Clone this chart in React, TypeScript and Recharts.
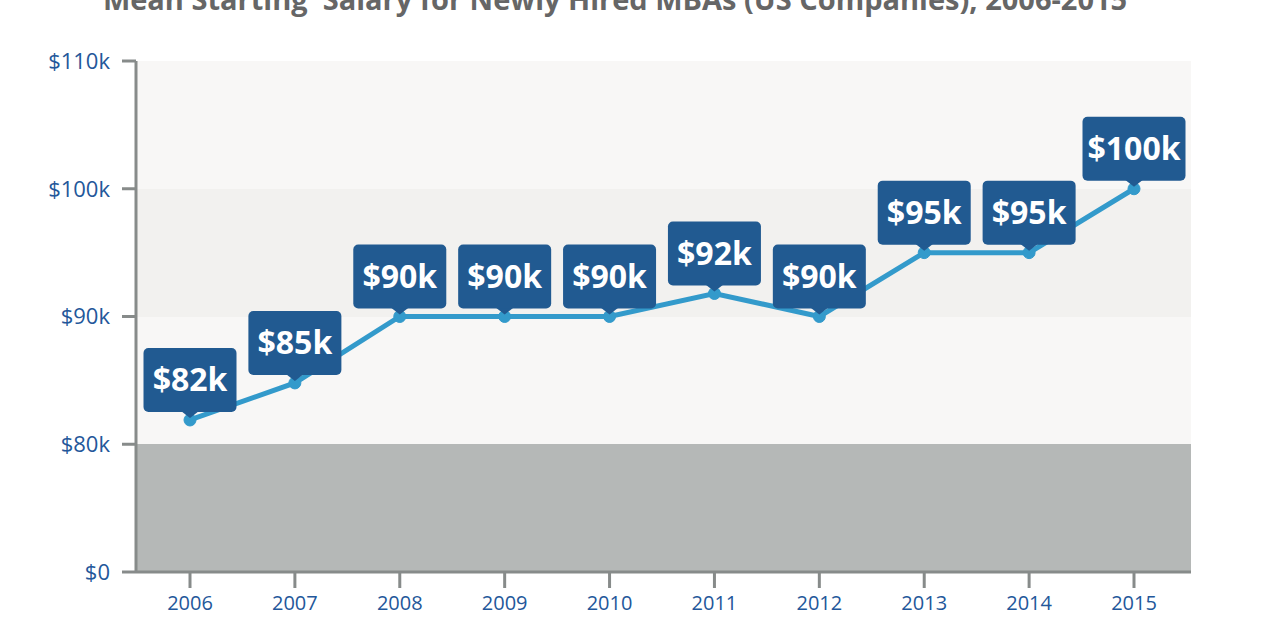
import { LineChart, Line, XAxis, YAxis, CartesianGrid, LabelList } from 'recharts';

const years = ['2006', '2007', '2008', '2009', '2010', '2011', '2012', '2013', '2014', '2015'];
const salaries = [81.9, 84.8, 90, 90, 90, 91.8, 90, 95, 95, 100];
const yTicks = [70, 80, 90, 100, 110];

const data = years.map((year, i) => ({ year, salary: salaries[i] }));

const AXIS_GRAY = '#878b8a';
const TICK_BLUE = '#23579a';
const TAG_BLUE = '#215a91';
const LINE_BLUE = '#339acb';
// stripes top to bottom: 110-100, 100-90, 90-80, 80-0
const BANDS = ['#f8f7f6', '#f2f1ef', '#f8f7f6', '#b5b8b7'];

const formatY = (v: number) => (v === 70 ? '$0' : `$${v}k`);

function SalaryTag(props: any) {
  const { x, y, value } = props;
  if (x == null || y == null) return null;
  const text = `$${Math.round(value)}k`;
  const w = 93 + (text.length - 4) * 10;
  const h = 64;
  const bottom = y - 8;
  return (
    <g>
      <path d={`M${x - 9},${bottom - 1} L${x + 9},${bottom - 1} L${x},${y - 2} Z`} fill={TAG_BLUE} />
      <rect x={x - w / 2} y={bottom - h} width={w} height={h} rx={5} fill={TAG_BLUE} />
      <text
        x={x}
        y={bottom - h / 2}
        dy="0.36em"
        textAnchor="middle"
        fill="#ffffff"
        fontWeight="bold"
        fontSize={32}
        fontFamily="'Open Sans', sans-serif"
      >
        {text}
      </text>
    </g>
  );
}

export default function App() {
  return (
    <div style={{ position: 'absolute', top: 0, left: 0, width: 1274, height: 630, background: '#fff' }}>
      <svg width={1274} height={30} style={{ position: 'absolute', top: 0, left: 0 }}>
        <text
          x={615}
          y={10}
          textAnchor="middle"
          fill="#666666"
          fontWeight="bold"
          fontSize={29}
          fontFamily="'Open Sans', sans-serif"
          style={{ whiteSpace: 'pre' }}
        >
          {'Mean Starting  Salary for Newly Hired MBAs (US Companies), 2006-2015'}
        </text>
      </svg>
      <LineChart width={1274} height={630} data={data} margin={{ top: 61, right: 83, bottom: 0, left: 0 }}>
        <CartesianGrid vertical={false} stroke="none" horizontalFill={BANDS} />
        <XAxis
          dataKey="year"
          height={58}
          padding={{ left: 54, right: 57 }}
          axisLine={{ stroke: AXIS_GRAY, strokeWidth: 3 }}
          tickLine={{ stroke: AXIS_GRAY, strokeWidth: 3 }}
          tickSize={16}
          tickMargin={8}
          tick={{ fill: TICK_BLUE, fontSize: 20, fontFamily: "'Open Sans', sans-serif" }}
        />
        <YAxis
          type="number"
          domain={[70, 110]}
          ticks={yTicks}
          interval={0}
          width={136}
          allowDataOverflow
          tickFormatter={formatY}
          axisLine={{ stroke: AXIS_GRAY, strokeWidth: 3 }}
          tickLine={{ stroke: AXIS_GRAY, strokeWidth: 3 }}
          tickSize={14}
          tickMargin={12}
          tick={{ fill: TICK_BLUE, fontSize: 22, fontFamily: "'Open Sans', sans-serif" }}
        />
        <Line
          type="linear"
          dataKey="salary"
          stroke={LINE_BLUE}
          strokeWidth={5}
          dot={{ r: 6, fill: LINE_BLUE, stroke: LINE_BLUE, strokeWidth: 1 }}
          isAnimationActive={false}
        >
          <LabelList dataKey="salary" content={<SalaryTag />} />
        </Line>
      </LineChart>
    </div>
  );
}
